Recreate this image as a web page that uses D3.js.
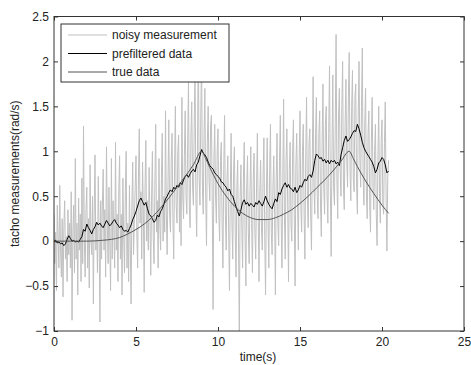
<!DOCTYPE html>
<html>
<head>
<meta charset="utf-8">
<script src="https://cdn.jsdelivr.net/npm/d3@7"></script>
<style>
    body { margin: 0; background: #fff; }
    text { font-family: "Liberation Sans", Arial, sans-serif; fill: #222; }
</style>
</head>
<body>
<div id="chart"></div>
<script>
// Tacho measurements: noisy vs prefiltered vs true
const xTicks = [0, 5, 10, 15, 20, 25];
const yTicks = [-1, -0.5, 0, 0.5, 1, 1.5, 2, 2.5];
const seriesNames = ["noisy measurement", "prefiltered data", "true data"];

// noisy measurement, one value every 0.05 s from t = 0 (20 per second)
const noisyStep = 0.05;
const noisyValues = [
    0.3, -0.25, 0.1, -0.55, 0.4, 0.05, -0.3, 0.62, -0.1, -0.4, 0.25, -0.62, 0.15, 0.45, -0.2, 0.05, -0.45, 0.35, -0.15, 0.2,
    -0.3, 0.55, -0.88, 0.1, 0.4, -0.35, 0.92, -0.2, 0.2, -0.6, 0.48, -0.1, 0.3, -0.45, 0.7, -0.25, 1.28, 0.0, -0.4, 0.35,
    0.6, -0.3, 0.25, -0.52, 0.85, 0.0, -0.15, 0.5, -0.7, 0.3, 0.96, -0.1, 0.2, -0.35, 0.72, 0.1, -0.9, 0.45, -0.2, 0.4,
    0.8, -0.1, 0.35, -0.4, 1.05, 0.2, -0.25, 0.6, 0.0, -0.55, 0.92, -0.2, 0.45, 0.1, -0.3, 1.1, -0.1, 0.3, -0.45, 0.55,
    0.95, -0.2, 0.3, -0.6, 0.7, 0.05, -0.35, 0.55, 1.0, -0.3, 0.2, -0.45, 0.62, -0.05, -0.7, 0.4, 0.88, -0.15, 0.25, 0.6,
    0.95, 0.1, -0.3, 0.7, 1.25, 0.2, 0.55, -0.2, 0.88, 0.3, -0.57, 0.6, 1.12, 0.0, 0.45, -0.1, 0.82, 0.25, -0.38, 0.5,
    1.0, 0.05, -0.25, 0.6, 1.3, 0.1, 0.45, -0.3, 0.92, 0.2, -0.1, 0.7, 1.2, 0.0, 0.5, 0.1, 1.45, 0.3, -0.15, 0.65,
    1.35, 0.3, 0.1, 0.9, 1.2, 0.25, -0.2, 0.8, 1.5, 0.4, 0.2, 1.0, 1.18, 0.1, 0.65, -0.05, 1.6, 0.5, 0.25, 0.95,
    1.45, 0.5, 0.3, 1.1, 1.77, 0.4, 0.15, 1.2, 1.55, 0.6, 0.4, 1.3, 1.95, 0.5, 0.05, 1.0, 2.35, 0.7, 0.4, 1.4,
    2.05, 0.6, 0.3, 1.2, 1.7, 0.5, -0.05, 1.1, 1.5, 0.7, 0.45, 1.3, 1.4, 0.4, -0.76, 0.9, 1.3, 0.5, 0.2, 1.0,
    1.25, 0.3, 0.0, 0.9, 1.1, 0.2, -0.3, 0.8, 1.4, 0.3, -0.1, 0.7, 0.95, 0.1, -0.55, 0.6, 1.2, 0.2, -0.2, 0.8,
    1.05, 0.1, -0.4, 0.6, 0.9, 0.0, -1.1, 0.5, 0.85, 0.2, -0.3, 0.7, 1.1, 0.05, -0.5, 0.6, 0.95, 0.1, -0.25, 0.55,
    1.05, 0.2, -0.35, 0.7, 0.98, 0.1, -0.2, 0.6, 1.2, 0.3, -0.45, 0.55, 0.9, 0.15, -0.1, 0.75, 1.15, 0.05, -0.6, 0.5,
    1.15, 0.2, -0.3, 0.8, 1.3, 0.1, -0.15, 0.6, 0.95, 0.3, -0.6, 0.7, 1.2, 0.2, -0.05, 0.9, 1.4, 0.25, -0.3, 0.65,
    1.58, 0.3, -0.2, 0.9, 1.25, 0.4, -0.45, 0.8, 1.1, 0.2, 0.0, 1.0, 1.35, 0.3, -0.5, 0.85, 1.2, 0.4, -0.1, 0.9,
    1.45, 0.4, 0.1, 1.0, 1.3, 0.3, -0.2, 0.95, 1.6, 0.5, 0.15, 1.1, 1.25, 0.3, -0.1, 0.9, 1.83, 0.6, 0.3, 1.2,
    1.6, 0.5, 0.25, 1.2, 1.45, 0.4, 0.05, 1.1, 1.75, 0.6, 0.3, 1.3, 1.5, 0.5, 0.2, 1.2, 1.95, 0.6, -0.17, 1.0,
    1.85, 0.6, 0.4, 1.3, 2.3, 0.7, 0.25, 1.4, 1.7, 0.8, 0.5, 1.5, 2.0, 0.6, 0.35, 1.3, 1.8, 0.9, 0.6, 1.6,
    2.1, 0.8, 0.45, 1.5, 1.9, 0.7, 0.55, 1.6, 1.75, 0.6, 0.3, 1.4, 2.0, 0.9, 0.6, 1.5, 2.15, 0.7, 0.4, 1.3,
    1.7, 0.5, 0.25, 1.2, 1.45, 0.4, 0.1, 1.1, 1.6, 0.6, 0.35, 1.0, 1.3, 0.3, -0.05, 0.9, 1.5, 0.5, 0.2, 1.1,
    1.35, 0.4, 0.3, 1.1, 1.55, 0.5, -0.11, 0.7, 0.9
];

// prefiltered data, one value every 0.1 s from t = 0
const filtStep = 0.1;
const filtValues = [
    0, 0.01, -0.02, -0.01, -0.03, -0.02, -0.05, -0.03, 0.02, 0.06,
    0.03, 0.0, 0.01, -0.01, 0.0, -0.01, 0.02, 0.05, 0.13, 0.11,
    0.19, 0.15, 0.12, 0.08, 0.13, 0.16, 0.21, 0.18, 0.2, 0.17,
    0.15, 0.19, 0.23, 0.2, 0.17, 0.19, 0.22, 0.24, 0.2, 0.18,
    0.15, 0.17, 0.13, 0.11, 0.12, 0.1, 0.14, 0.18, 0.24, 0.28,
    0.33, 0.39, 0.45, 0.48, 0.44, 0.4, 0.43, 0.36, 0.3, 0.28,
    0.25, 0.21, 0.23, 0.29, 0.27, 0.33, 0.36, 0.41, 0.47, 0.5,
    0.54, 0.57, 0.55, 0.6, 0.58, 0.62, 0.6, 0.65, 0.63, 0.68,
    0.72, 0.74, 0.71, 0.75, 0.78, 0.8, 0.77, 0.85, 0.88, 0.95,
    1.02, 0.98, 0.96, 0.93, 0.88, 0.84, 0.82, 0.8, 0.76, 0.74,
    0.72, 0.7, 0.66, 0.65, 0.62, 0.6, 0.56, 0.58, 0.52, 0.5,
    0.44, 0.38, 0.33, 0.28, 0.35, 0.43, 0.46, 0.41, 0.43, 0.39,
    0.42, 0.4, 0.38, 0.43, 0.41, 0.45, 0.42, 0.39, 0.44, 0.5,
    0.45, 0.41, 0.38, 0.36, 0.42, 0.47, 0.44, 0.54, 0.52, 0.58,
    0.62, 0.65, 0.6, 0.63, 0.59, 0.58, 0.55, 0.6, 0.54, 0.57,
    0.62, 0.6, 0.65, 0.69, 0.67, 0.72, 0.74, 0.71, 0.78, 0.9,
    0.97, 0.95, 0.92, 0.93, 0.89, 0.91, 0.87, 0.9, 0.86, 0.9,
    0.88, 0.9, 0.86, 0.88, 0.84, 0.96, 1.04, 1.12, 1.17, 1.11,
    1.13, 1.16, 1.2, 1.23, 1.22, 1.3, 1.25, 1.18, 1.1, 1.04,
    1.0, 0.97, 0.94, 0.91, 0.88, 0.83, 0.76, 0.8, 0.87, 0.89,
    0.93, 0.91, 0.85, 0.76, 0.78
];

// true data
const trueTime = [0, 1, 2, 3, 3.5, 4, 4.5, 5, 5.5, 6, 6.5, 7, 7.5, 8, 8.5, 9, 9.25, 9.5, 10,
    10.5, 11, 11.5, 12, 12.5, 13, 13.5, 14, 14.5, 15, 15.5, 16, 16.5, 17, 17.5, 18, 18.25,
    18.5, 19, 19.5, 20, 20.4];
const trueValues = [0, 0, 0, 0.01, 0.02, 0.04, 0.08, 0.13, 0.19, 0.27, 0.37, 0.48, 0.6, 0.72, 0.85, 1.0, 0.92, 0.82, 0.64,
    0.5, 0.39, 0.31, 0.26, 0.24, 0.24, 0.26, 0.3, 0.35, 0.42, 0.5, 0.59, 0.68, 0.78, 0.89, 1.0, 0.92,
    0.83, 0.67, 0.53, 0.4, 0.31];

const colors = ["#c0c0c0", "#000000", "#555555"];

const width = 471, height = 365;
const plot = { left: 54, right: 464, top: 16.5, bottom: 331 };

const x = d3.scaleLinear().domain([0, 25]).range([plot.left, plot.right]);
const y = d3.scaleLinear().domain([-1, 2.5]).range([plot.bottom, plot.top]);

const svg = d3.select("#chart").append("svg")
    .attr("width", width)
    .attr("height", height);

svg.append("rect").attr("width", width).attr("height", height).attr("fill", "#fff");

svg.append("clipPath").attr("id", "clip")
    .append("rect")
    .attr("x", plot.left).attr("y", plot.top)
    .attr("width", plot.right - plot.left).attr("height", plot.bottom - plot.top);

const noisy = noisyValues.map((v, i) => [i * noisyStep, v]);
const filt = filtValues.map((v, i) => [i * filtStep, v]);
const truth = trueTime.map((t, i) => [t, trueValues[i]]);

const line = d3.line().x(d => x(d[0])).y(d => y(d[1]));
const curve = d3.line().x(d => x(d[0])).y(d => y(d[1])).curve(d3.curveMonotoneX);
const lines = svg.append("g").attr("clip-path", "url(#clip)");

lines.append("path").datum(noisy)
    .attr("fill", "none").attr("stroke", colors[0]).attr("stroke-width", 1)
    .attr("d", line);
lines.append("path").datum(filt)
    .attr("fill", "none").attr("stroke", colors[1]).attr("stroke-width", 1)
    .attr("stroke-linejoin", "round")
    .attr("d", line);
lines.append("path").datum(truth)
    .attr("fill", "none").attr("stroke", colors[2]).attr("stroke-width", 1)
    .attr("d", curve);

// Axes (box with inward ticks on all sides)
const tickLen = 4;
const axisColor = "#333";

svg.append("g")
    .attr("transform", `translate(0,${plot.bottom})`)
    .call(d3.axisBottom(x).tickValues(xTicks).tickSize(-tickLen).tickPadding(6).tickFormat(d3.format("d")))
    .call(g => g.select(".domain").remove());
svg.append("g")
    .attr("transform", `translate(0,${plot.top})`)
    .call(d3.axisTop(x).tickValues(xTicks).tickSize(-tickLen).tickFormat(""))
    .call(g => g.select(".domain").remove());
svg.append("g")
    .attr("transform", `translate(${plot.left},0)`)
    .call(d3.axisLeft(y).tickValues(yTicks).tickSize(-tickLen).tickPadding(5).tickFormat(d => d3.format("")(d)))
    .call(g => g.select(".domain").remove());
svg.append("g")
    .attr("transform", `translate(${plot.right},0)`)
    .call(d3.axisRight(y).tickValues(yTicks).tickSize(-tickLen).tickFormat(""))
    .call(g => g.select(".domain").remove());

svg.selectAll(".tick line").attr("stroke", axisColor);
svg.selectAll(".tick text")
    .attr("font-size", 12)
    .style("font-family", "'Liberation Sans', Arial, sans-serif")
    .attr("fill", "#222");

svg.append("rect")
    .attr("x", plot.left).attr("y", plot.top)
    .attr("width", plot.right - plot.left).attr("height", plot.bottom - plot.top)
    .attr("fill", "none")
    .attr("stroke", axisColor)
    .attr("stroke-width", 1);

// Axis labels
svg.append("text")
    .attr("x", (plot.left + plot.right) / 2 - 1)
    .attr("y", 361)
    .attr("text-anchor", "middle")
    .attr("font-size", 12)
    .text("time(s)");

svg.append("text")
    .attr("transform", `translate(19,${(plot.top + plot.bottom) / 2}) rotate(-90)`)
    .attr("text-anchor", "middle")
    .attr("font-size", 12)
    .text("tacho measurements(rad/s)");

// Legend
const legend = svg.append("g").attr("transform", "translate(61,24)");
legend.append("rect")
    .attr("width", 168).attr("height", 58)
    .attr("fill", "#fff")
    .attr("stroke", axisColor)
    .attr("stroke-width", 1);

seriesNames.forEach((name, i) => {
    const ry = 11 + i * 18.5;
    legend.append("line")
        .attr("x1", 7).attr("x2", 46)
        .attr("y1", ry).attr("y2", ry)
        .attr("stroke", colors[i])
        .attr("stroke-width", 1);
    legend.append("text")
        .attr("x", 51).attr("y", ry)
        .attr("dominant-baseline", "central")
        .attr("font-size", 12)
        .text(name);
});
</script>
</body>
</html>
